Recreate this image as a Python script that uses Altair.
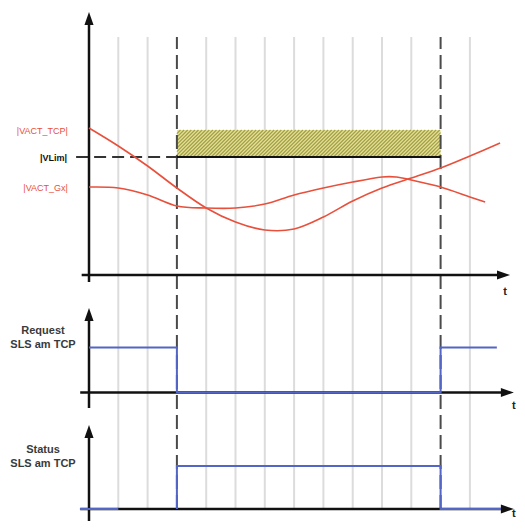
import altair as alt
import pandas as pd
import numpy as np

# ---------------- data (time in grid units, levels in diagram units) ----------------
grid_t = [1, 2, 4, 5, 6, 7, 8, 9, 10, 11, 13]
event_t = [3, 12]

# top panel: speed curves (value above the panel baseline)
tcp_t = [0, 1, 2, 3, 4, 5, 6, 7, 8, 9, 10, 11, 12, 13, 14.03]
tcp_v = [147, 129, 109, 87, 67, 53, 45, 46, 58, 74, 87, 97, 107, 119, 132]
gx_t = [0, 1, 2, 3, 4, 5, 6, 7, 8, 9, 10, 10.5, 11, 12, 13, 13.52]
gx_v = [88, 87, 80, 69, 67, 67, 71, 80, 87, 93, 98, 98, 95, 88, 78, 73]
v_lim = 118
band_top = 145

# middle panel: request signal
req_t = [0, 3, 3, 12, 12, 13.92]
req_v = [45, 45, 0, 0, 45, 45]

# bottom panel: status signal
stat_t = [3, 3, 12, 12, 14.13]
stat_v = [0, 43, 43, 0, 0]
stat_pre_t = [-0.31, 1.0]
stat_pre_v = [0, 0]

# panel baselines (diagram units)
base = {"p1": 254, "p2": 136.5, "p3": 20}

# ---------------- scales ----------------
PX_PER_T = 29.3
X0 = 89
xs = alt.Scale(domain=[(8 - X0) / PX_PER_T, (517 - X0) / PX_PER_T], nice=False, zero=False)
ys = alt.Scale(domain=[8, 521], nice=False, zero=False)


def X(f="t"):
    return alt.X(f"{f}:Q", scale=xs, axis=None)


def Y(f="y"):
    return alt.Y(f"{f}:Q", scale=ys, axis=None)


def rules(df, color, width, dash=None):
    kw = dict(color=color, strokeWidth=width)
    if dash:
        kw["strokeDash"] = dash
    return alt.Chart(df).mark_rule(**kw).encode(
        x=X("t"), x2="t2:Q", y=Y("y"), y2="y2:Q"
    )


layers = []

# grid lines
grid_df = pd.DataFrame({"t": grid_t, "t2": grid_t, "y": 20, "y2": 492})
layers.append(rules(grid_df, "#dcdcdc", 2))

# hatched band
p1 = base["p1"]
yb, yt = p1 + v_lim, p1 + band_top
band_df = pd.DataFrame({"t": [event_t[0]], "t2": [event_t[1]], "y": [yb], "y2": [yt]})
layers.append(alt.Chart(band_df).mark_rect(color="#e4e09a").encode(
    x=X("t"), x2="t2:Q", y=Y("y"), y2="y2:Q"))
L = X0 + event_t[0] * PX_PER_T
R = X0 + event_t[1] * PX_PER_T
h = yt - yb
hatch = []
for c in np.arange(L - h, R, 3.6):
    x1, y1 = c, yb
    x2, y2 = c + h, yt
    if x1 < L:
        y1 = yb + (L - x1)
        x1 = L
    if x2 > R:
        y2 = yt - (x2 - R)
        x2 = R
    hatch.append({"t": (x1 - X0) / PX_PER_T, "t2": (x2 - X0) / PX_PER_T, "y": y1, "y2": y2})
layers.append(rules(pd.DataFrame(hatch), "#a3a044", 1.2))

# event dashed vertical lines
ev_df = pd.DataFrame({"t": event_t, "t2": event_t, "y": 20, "y2": 492})
layers.append(rules(ev_df, "#4a4a4a", 2, [14, 6]))

# V_lim line: dashed before, solid along the band
layers.append(rules(pd.DataFrame({"t": [-0.44], "t2": [event_t[0]], "y": [yb], "y2": [yb]}),
                    "#333333", 2, [12, 6]))
layers.append(rules(pd.DataFrame({"t": [event_t[0]], "t2": [event_t[1]], "y": [yb], "y2": [yb]}),
                    "#111111", 2.2))

# axes
axes_df = pd.DataFrame({
    "t":  [0, -0.25, 0, -0.3, 0, -0.3],
    "t2": [0, 14.03, 0, 14.17, 0, 14.17],
    "y":  [247, base["p1"], 121, base["p2"], 6, base["p3"]],
    "y2": [505, base["p1"], 209, base["p2"], 92, base["p3"]],
})
layers.append(rules(axes_df, "#111111", 2.5))

# speed curves
curves = pd.concat([
    pd.DataFrame({"t": tcp_t, "y": [p1 + v for v in tcp_v], "s": "tcp", "o": range(len(tcp_t))}),
    pd.DataFrame({"t": gx_t, "y": [p1 + v for v in gx_v], "s": "gx", "o": range(len(gx_t))}),
])
layers.append(alt.Chart(curves).mark_line(color="#e8503c", strokeWidth=1.6, interpolate="cardinal").encode(
    x=X("t"), y=Y("y"), detail="s:N", order="o:Q"))

# signals
sig = pd.concat([
    pd.DataFrame({"t": req_t, "y": [base["p2"] + v for v in req_v], "s": "req", "o": range(len(req_t))}),
    pd.DataFrame({"t": stat_t, "y": [base["p3"] + v for v in stat_v], "s": "stat", "o": range(len(stat_t))}),
    pd.DataFrame({"t": stat_pre_t, "y": [base["p3"] + v for v in stat_pre_v], "s": "pre", "o": range(2)}),
])
layers.append(alt.Chart(sig).mark_line(color="#5366c6", strokeWidth=2, interpolate="linear").encode(
    x=X("t"), y=Y("y"), detail="s:N", order="o:Q"))

# arrow heads
up_df = pd.DataFrame({"t": [0, 0, 0], "y": [510.5, 214.5, 97.5]})
right_df = pd.DataFrame({"t": [14.147, 14.28, 14.28], "y": [base["p1"], base["p2"], base["p3"]]})
layers.append(alt.Chart(up_df).mark_point(shape="M-0.7,1L0,-1L0.7,1Z", filled=True, color="#111111",
                                          size=169, opacity=1, strokeWidth=0).encode(x=X("t"), y=Y("y")))
layers.append(alt.Chart(right_df).mark_point(shape="M-1,-0.7L1,0L-1,0.7Z", filled=True, color="#111111",
                                             size=169, opacity=1, strokeWidth=0).encode(x=X("t"), y=Y("y")))

# texts
font = "Liberation Sans"
red_lbl = pd.DataFrame({"t": [-0.72, -0.72], "y": [p1 + 144, p1 + 87], "txt": ["|VACT_TCP|", "|VACT_Gx|"]})
layers.append(alt.Chart(red_lbl).mark_text(align="right", baseline="middle", font=font, fontSize=9,
                                           color="#e8503c").encode(x=X("t"), y=Y("y"), text="txt:N"))
lim_lbl = pd.DataFrame({"t": [-0.75], "y": [p1 + 117], "txt": ["|VLim|"]})
layers.append(alt.Chart(lim_lbl).mark_text(align="right", baseline="middle", font=font, fontSize=9,
                                           fontWeight="bold", color="#111111").encode(x=X("t"), y=Y("y"), text="txt:N"))
side_lbl = pd.DataFrame({"t": [-1.57] * 4, "y": [198, 184, 79, 65],
                         "txt": ["Request", "SLS am TCP", "Status", "SLS am TCP"]})
layers.append(alt.Chart(side_lbl).mark_text(align="center", baseline="middle", font=font, fontSize=11,
                                            fontWeight="bold", color="#3a3a3a").encode(x=X("t"), y=Y("y"), text="txt:N"))
t_lbl = pd.DataFrame({"t": [14.2, 14.5, 14.5], "y": [237, 123, 15], "txt": ["t", "t", "t"]})
layers.append(alt.Chart(t_lbl).mark_text(align="center", baseline="middle", font=font, fontSize=11,
                                         fontWeight="bold", color="#222222").encode(x=X("t"), y=Y("y"), text="txt:N"))

chart = alt.layer(*layers).properties(
    width=509, height=513, padding=0, autosize="none"
).configure_view(stroke=None)

chart.save("out.html", embed_options={"renderer": "svg", "actions": False})
